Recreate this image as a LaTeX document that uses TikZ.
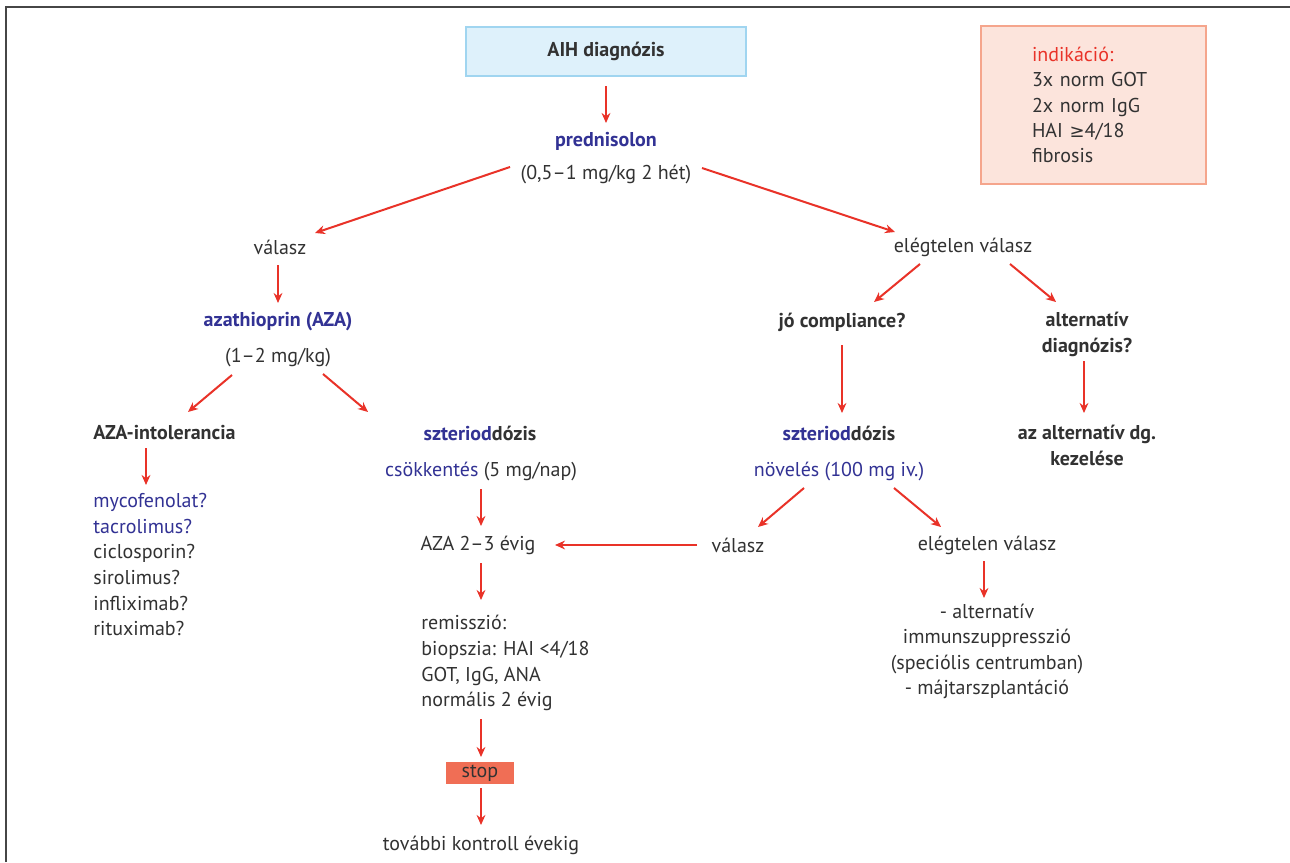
\documentclass[tikz,border=0pt]{standalone}
\usepackage{fontspec}
\setmainfont{PT Sans}
\newfontfamily\symfont[Scale=0.9]{DejaVu Sans}
\usetikzlibrary{arrows.meta}
\definecolor{txtgray}{RGB}{50,50,50}
\definecolor{blueC}{RGB}{50,50,148}
\definecolor{redC}{RGB}{233,50,40}
\definecolor{lbfill}{RGB}{222,241,251}
\definecolor{lbdraw}{RGB}{160,213,240}
\definecolor{pkfill}{RGB}{252,228,220}
\definecolor{pkdraw}{RGB}{245,165,140}
\definecolor{stopfill}{RGB}{240,110,85}
\definecolor{framegray}{RGB}{70,70,70}
\begin{document}
\begin{tikzpicture}[x=0.5pt,y=-0.5pt,
  txt/.style={font=\fontsize{10}{12.8}\selectfont, text=txtgray, inner sep=0pt},
  btxt/.style={txt, font=\fontsize{10}{12.8}\selectfont\bfseries},
  blu/.style={btxt, text=blueC},
  bluereg/.style={txt, text=blueC},
  arr/.style={draw=redC, line width=1pt, -{Stealth[length=5pt,width=4.4pt]}},
  aihbox/.style={btxt, draw=lbdraw, fill=lbfill, line width=0.8pt, minimum width=140pt, minimum height=24.5pt},
  indbox/.style={txt, font=\fontsize{10}{12.6}\selectfont, draw=pkdraw, fill=pkfill, line width=0.8pt, align=left, text width=61.5pt, inner xsep=25.5pt, minimum height=79pt},
  stopbox/.style={txt, fill=stopfill, minimum width=34pt, minimum height=11pt}
]
\useasboundingbox (0,0) rectangle (1290,862);
\fill[white] (0,0) rectangle (1290,862);
\draw[framegray, line width=1pt] (6,862) -- (6,7) -- (1290,7);

% nodes
\node[aihbox] (aih) at (606,51.5) {AIH diagnózis};
\node[indbox] (ind) at (1093.5,105) {\textcolor{redC}{indikáció:}\\3x norm GOT\\2x norm IgG\\HAI {\symfont ≥}4/18\\fibrosis};
\node[blu] (pred) at (606,141) {prednisolon};
\node[txt] (dose) at (606,174) {(0,5–1 mg/kg 2 hét)};
\node[txt] (val1) at (280,247) {válasz};
\node[txt] (elv1) at (963,247) {elégtelen válasz};
\node[blu] (aza) at (278,322) {azathioprin (AZA)};
\node[txt] (azad) at (278,358) {(1–2 mg/kg)};
\node[btxt, anchor=west] (intol) at (93,433) {AZA-intolerancia};
\node[txt, anchor=north west, align=left] (alts) at (93,493) {\textcolor{blueC}{mycofenolat?}\\\textcolor{blueC}{tacrolimus?}\\ciclosporin?\\sirolimus?\\infliximab?\\rituximab?};
\node[btxt] (szt1) at (480,433) {\textcolor{blueC}{szteriod}dózis};
\node[txt] (csok) at (481,471) {\textcolor{blueC}{csökkentés} (5 mg/nap)};
\node[txt] (aza23) at (478,545) {AZA 2–3 évig};
\node[txt, anchor=north west, align=left] (remis) at (421,615) {remisszió:\\biopszia: HAI <4/18\\GOT, IgG, ANA\\normális 2 évig};
\node[stopbox] (stop) at (480,773) {stop};
\node[txt] (tovabbi) at (481,845) {további kontroll évekig};
\node[btxt] (jo) at (842,322) {jó compliance?};
\node[btxt, align=center] (alt) at (1087,334.5) {alternatív\\diagnózis?};
\node[btxt] (szt2) at (839,433) {\textcolor{blueC}{szteriod}dózis};
\node[btxt, align=center] (azalt) at (1087,445.5) {az alternatív dg.\\kezelése};
\node[bluereg] (nov) at (839,471) {növelés (100 mg iv.)};
\node[txt] (val2) at (738,545) {válasz};
\node[txt] (elv2) at (987,545) {elégtelen válasz};
\node[txt, align=center] (altimm) at (987,651.5) {- alternatív\\immunszuppresszió\\(speciólis centrumban)\\- májtarszplantáció};

% connectors
\draw[arr] ([shift={(0,34.5)}]aih.center) -- ([shift={(0,-18)}]pred.center);
\draw[arr] ([shift={(-96,-7)}]dose.center) -- ([shift={(35,-14)}]val1.center);
\draw[arr] ([shift={(96,-6)}]dose.center) -- ([shift={(-68,-15)}]elv1.center);
\draw[arr] ([shift={(-2,18)}]val1.center) -- ([shift={(0,-19)}]aza.center);
\draw[arr] ([shift={(-46,17)}]azad.center) -- ([shift={(95,-21)}]intol.west);
\draw[arr] ([shift={(45,16)}]azad.center) -- ([shift={(-112,-21)}]szt1.center);
\draw[arr] ([shift={(53,15)}]intol.west) -- ([shift={(53,-8)}]alts.north west);
\draw[arr] ([shift={(0,18)}]csok.center) -- ([shift={(3,-19)}]aza23.center);
\draw[arr] ([shift={(-41,0)}]val2.center) -- ([shift={(77,0)}]aza23.center);
\draw[arr] ([shift={(3,18)}]aza23.center) -- ([shift={(60,-15)}]remis.north west);
\draw[arr] ([shift={(60,104)}]remis.north west) -- ([shift={(1,-16)}]stop.center);
\draw[arr] ([shift={(1,15)}]stop.center) -- ([shift={(0,-20)}]tovabbi.center);
\draw[arr] ([shift={(-43,17)}]elv1.center) -- ([shift={(32,-20)}]jo.center);
\draw[arr] ([shift={(47,17)}]elv1.center) -- ([shift={(-31,-32.5)}]alt.center);
\draw[arr] ([shift={(0,23)}]jo.center) -- ([shift={(3,-20)}]szt2.center);
\draw[arr] ([shift={(-3,26.5)}]alt.center) -- ([shift={(-3,-32.5)}]azalt.center);
\draw[arr] ([shift={(-35,17)}]nov.center) -- ([shift={(20,-18)}]val2.center);
\draw[arr] ([shift={(55,17)}]nov.center) -- ([shift={(-46,-18)}]elv2.center);
\draw[arr] ([shift={(-3,16)}]elv2.center) -- ([shift={(-3,-53.5)}]altimm.center);
\end{tikzpicture}
\end{document}
